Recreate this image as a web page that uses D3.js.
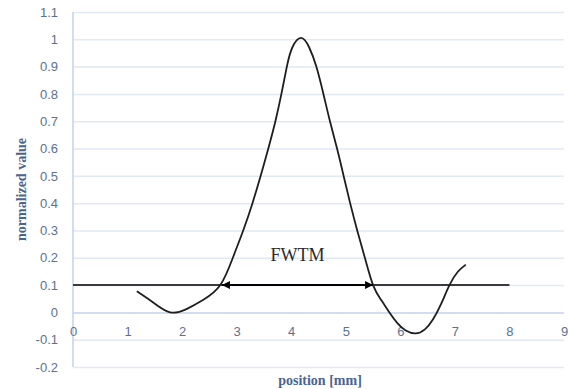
<!DOCTYPE html>
<html>
<head>
<meta charset="utf-8">
<script src="https://cdn.jsdelivr.net/npm/d3@7"></script>
<style>
  body { margin: 0; background: #fff; }
  svg { display: block; }
</style>
</head>
<body>
<svg id="chart" width="569" height="389"></svg>
<script>
// profile
const posX = [1.17, 1.47, 1.78, 2.08, 2.39, 2.70, 2.93, 3.12, 3.29, 3.44, 3.58, 3.71, 3.82, 3.92, 4.02, 4.18, 4.33, 4.46, 4.59, 4.71, 4.84, 4.96, 5.08, 5.21, 5.35, 5.50, 5.65, 5.80, 5.95, 6.10, 6.28, 6.45, 6.60, 6.75, 6.90, 7.05, 7.20];
const valY = [0.077, 0.036, 0.0, 0.012, 0.046, 0.10, 0.20, 0.30, 0.40, 0.50, 0.60, 0.70, 0.80, 0.90, 0.97, 1.005, 0.97, 0.90, 0.80, 0.70, 0.60, 0.50, 0.40, 0.30, 0.20, 0.10, 0.045, 0.0, -0.04, -0.066, -0.077, -0.062, -0.025, 0.032, 0.10, 0.148, 0.175];

const levelX = [0, 8];
const levelY = 0.1;
const fwtmX = [2.73, 5.50];
const fwtmLabel = 'FWTM';

const xTicks = [0, 1, 2, 3, 4, 5, 6, 7, 8, 9];
const yTicks = [-0.2, -0.1, 0, 0.1, 0.2, 0.3, 0.4, 0.5, 0.6, 0.7, 0.8, 0.9, 1, 1.1];

const margin = { top: 12, right: 5, bottom: 22, left: 73 };
const svg = d3.select('#chart');
const W = +svg.attr('width'), H = +svg.attr('height');

const x = d3.scaleLinear().domain([0, 9]).range([margin.left, W - margin.right]);
const y = d3.scaleLinear().domain([-0.2, 1.1]).range([H - margin.bottom, margin.top]);

const tickColor = '#5d7092';
const titleColor = '#4a6490';

// horizontal gridlines + y labels
const yAxis = svg.append('g')
  .attr('transform', `translate(${margin.left},0)`)
  .call(d3.axisLeft(y).tickValues(yTicks).tickSize(-(x(9) - x(0))).tickPadding(15)
    .tickFormat(d => String(+d.toFixed(1))));
yAxis.select('.domain').remove();
yAxis.selectAll('.tick line').attr('stroke', d => d === 0 ? '#c3d3ea' : '#e1e9f5').attr('stroke-width', 1.5);
yAxis.selectAll('.tick text')
  .attr('fill', tickColor)
  .style('font-family', '"Liberation Sans", Arial, sans-serif')
  .style('font-size', '13px');

// vertical axis line
svg.append('line')
  .attr('x1', x(0)).attr('x2', x(0))
  .attr('y1', y(1.1)).attr('y2', y(-0.2))
  .attr('stroke', '#c3d3ea').attr('stroke-width', 1.5);

// x labels sitting under the zero line
const xAxis = svg.append('g')
  .attr('transform', `translate(0,${y(0)})`)
  .call(d3.axisBottom(x).tickValues(xTicks).tickSize(0).tickPadding(14));
xAxis.select('.domain').remove();
xAxis.selectAll('.tick text')
  .attr('fill', tickColor)
  .style('font-family', '"Liberation Sans", Arial, sans-serif')
  .style('font-size', '13px');

// axis titles
svg.append('text')
  .attr('transform', `translate(26,${(y(1.1) + y(-0.2)) / 2}) rotate(-90)`)
  .attr('text-anchor', 'middle')
  .attr('fill', titleColor)
  .style('font-family', '"Liberation Serif", "Times New Roman", serif')
  .style('font-weight', 'bold')
  .style('font-size', '14px')
  .text('normalized value');

svg.append('text')
  .attr('x', 320).attr('y', 385)
  .attr('text-anchor', 'middle')
  .attr('fill', titleColor)
  .style('font-family', '"Liberation Serif", "Times New Roman", serif')
  .style('font-weight', 'bold')
  .style('font-size', '14px')
  .text('position [mm]');

// 10% level line
svg.append('line')
  .attr('x1', x(levelX[0])).attr('x2', x(levelX[1]))
  .attr('y1', y(levelY)).attr('y2', y(levelY))
  .attr('stroke', '#3a3a3a').attr('stroke-width', 2);

// profile curve
const line = d3.line()
  .x((d, i) => x(posX[i]))
  .y((d, i) => y(valY[i]))
  .curve(d3.curveNatural);
svg.append('path')
  .datum(posX)
  .attr('d', line)
  .attr('fill', 'none')
  .attr('stroke', '#1e1e1e')
  .attr('stroke-width', 1.8);

// FWTM double arrow
const defs = svg.append('defs');
defs.append('marker')
  .attr('id', 'arrow')
  .attr('viewBox', '0 0 10 10')
  .attr('refX', 10).attr('refY', 5)
  .attr('markerWidth', 4).attr('markerHeight', 4)
  .attr('orient', 'auto-start-reverse')
  .append('path')
  .attr('d', 'M0,0L10,5L0,10z')
  .attr('fill', '#000');

svg.append('line')
  .attr('x1', x(fwtmX[0])).attr('x2', x(fwtmX[1]))
  .attr('y1', y(levelY)).attr('y2', y(levelY))
  .attr('stroke', '#000').attr('stroke-width', 2)
  .attr('marker-start', 'url(#arrow)')
  .attr('marker-end', 'url(#arrow)');

svg.append('text')
  .attr('x', x((fwtmX[0] + fwtmX[1]) / 2))
  .attr('y', y(0.19))
  .attr('text-anchor', 'middle')
  .attr('fill', '#2a2a2a')
  .style('font-family', '"Liberation Serif", "Times New Roman", serif')
  .style('font-size', '18px')
  .text(fwtmLabel);
</script>
</body>
</html>
